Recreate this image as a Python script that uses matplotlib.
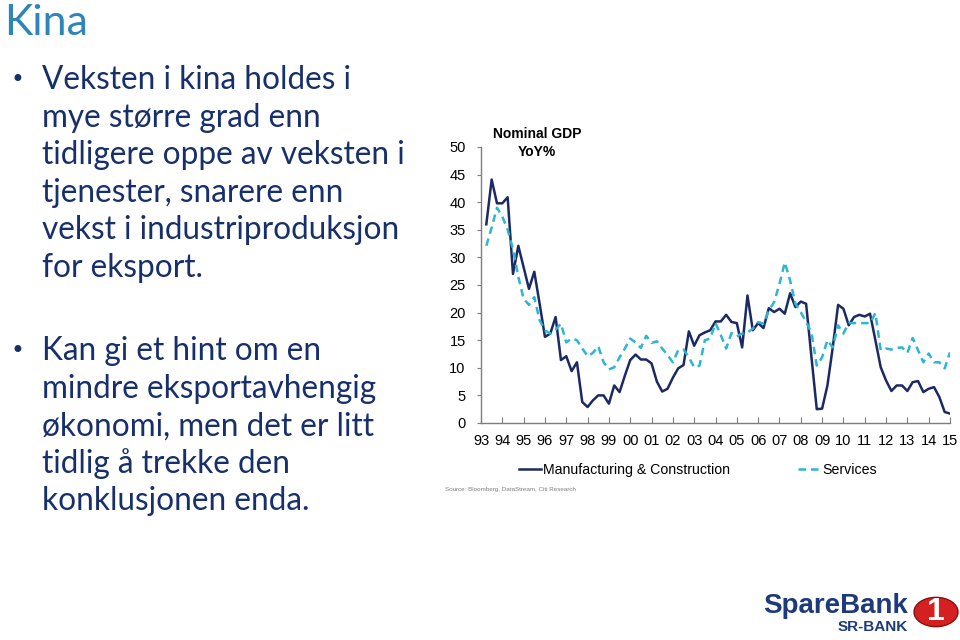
import matplotlib
matplotlib.use('Agg')
import matplotlib.pyplot as plt
from matplotlib.patches import Circle
import numpy as np

# Quarterly data, 1993 Q2 .. 2015 Q1
start_year = 1993.25
manufacturing = [36.0, 44.1, 39.8, 39.8, 40.9, 27.0, 32.1, 28.2, 24.3, 27.4,
                 21.6, 15.6, 16.2, 19.2, 11.4, 12.1, 9.4, 11.0, 3.8, 2.9,
                 4.1, 5.0, 5.0, 3.5, 6.8, 5.6, 8.6, 11.4, 12.4, 11.5,
                 11.5, 10.8, 7.5, 5.7, 6.2, 8.2, 9.9, 10.5, 16.6, 14.0,
                 15.9, 16.4, 16.8, 18.4, 18.4, 19.6, 18.3, 18.1, 13.7, 23.1,
                 16.8, 18.1, 17.2, 20.8, 20.1, 20.7, 19.8, 23.5, 21.0, 22.0,
                 21.6, 12.0, 2.5, 2.6, 6.8, 13.7, 21.4, 20.7, 17.7, 19.2,
                 19.6, 19.3, 19.8, 15.0, 10.1, 7.7, 5.8, 6.8, 6.8, 5.8,
                 7.4, 7.6, 5.6, 6.2, 6.5, 4.7, 2.0, 1.7]
services = [32.1, 35.4, 39.0, 37.4, 35.0, 31.5, 26.5, 22.5, 21.4, 22.8,
            18.6, 16.8, 16.2, 16.9, 18.0, 14.6, 15.3, 15.0, 13.5, 12.1,
            12.7, 13.9, 11.0, 9.7, 10.1, 11.9, 13.5, 15.3, 14.6, 13.6,
            15.8, 14.5, 14.8, 13.5, 12.3, 11.0, 13.2, 13.3, 11.9, 10.1,
            10.4, 15.0, 15.3, 18.1, 15.9, 13.5, 16.3, 15.7, 16.2, 16.4,
            17.1, 18.3, 18.0, 20.4, 21.9, 25.2, 29.1, 25.8, 21.6, 20.1,
            18.3, 16.4, 10.4, 11.9, 15.0, 13.7, 17.7, 16.2, 18.1, 18.1,
            18.1, 18.1, 18.1, 19.9, 13.2, 13.5, 13.3, 13.6, 13.7, 12.7,
            15.4, 13.2, 11.0, 12.6, 11.0, 11.0, 9.9, 12.8]
year_ticks = list(range(1993, 2016))
year_labels = ['%02d' % (y % 100) for y in year_ticks]
y_ticks = [0, 5, 10, 15, 20, 25, 30, 35, 40, 45, 50]

bullet1 = ['Veksten i kina holdes i', 'mye større grad enn',
           'tidligere oppe av veksten i', 'tjenester, snarere enn',
           'vekst i industriproduksjon', 'for eksport.']
bullet2 = ['Kan gi et hint om en', 'mindre eksportavhengig',
           'økonomi, men det er litt', 'tidlig å trekke den',
           'konklusjonen enda.']

navy = '#1b2a63'
cyan = '#2bb7d3'
text_col = '#17306b'

fig = plt.figure(figsize=(9.6, 6.4), dpi=100)
W, H = 960.0, 640.0

# slide title and bullets
fig.text(4 / W, 1 - 23 / H, 'Kina', fontsize=31, color='#2e86b8',
         family='Lato', va='center', ha='left')

def bullets(lines, y0):
    fig.text(10 / W, 1 - y0 / H, '•', fontsize=17, color=text_col,
             va='center', ha='left')
    for k, line in enumerate(lines):
        fig.text(42 / W, 1 - (y0 + 37.6 * k) / H, line, fontsize=22.7,
                 color=text_col, family='Lato', va='center', ha='left')

bullets(bullet1, 80)
bullets(bullet2, 351)

# chart
ax = fig.add_axes([481 / W, 1 - 423 / H, (950 - 481) / W, (423 - 147) / H])
x = start_year + 0.25 * np.arange(len(manufacturing))
ax.plot(x, manufacturing, color=navy, lw=1.8,
        label='Manufacturing & Construction')
ax.plot(x, services, color=cyan, lw=1.8, ls=(0, (3, 2)), label='Services')
ax.set_xlim(1993, 2015)
ax.set_ylim(0, 50)
ax.set_xticks(year_ticks)
ax.set_xticklabels(year_labels)
ax.set_yticks(y_ticks)
for s in ['top', 'right']:
    ax.spines[s].set_visible(False)
for s in ['left', 'bottom']:
    ax.spines[s].set_color('#7f7f7f')
    ax.spines[s].set_linewidth(1.0)
ax.tick_params(axis='x', direction='in', length=4, color='#7f7f7f',
               labelsize=10.5, pad=8)
ax.tick_params(axis='y', direction='out', length=3, color='#7f7f7f',
               labelsize=10.5, pad=8)
for lab in ax.get_xticklabels() + ax.get_yticklabels():
    lab.set_family('Liberation Sans')
ax.text(0.12, 1.015, 'Nominal GDP\nYoY%', transform=ax.transAxes,
        ha='center', va='center', fontsize=10, fontweight='bold',
        family='Liberation Sans', linespacing=1.4)

leg = ax.legend(loc='upper center', bbox_to_anchor=(0.462, -0.1), ncol=2,
                frameon=False, handlelength=1.6, handletextpad=0.1,
                columnspacing=4.8, prop={'family': 'Liberation Sans', 'size': 10.2})

fig.text(445 / W, 1 - 490 / H, 'Source: Bloomberg, DataStream, Citi Research',
         fontsize=4.5, color='#808080', va='center', ha='left',
         family='Liberation Sans')

# logo
fig.text(908 / W, 1 - 606 / H, 'SpareBank', fontsize=20, color='#1d3a7a',
         fontweight='bold', ha='right', va='center', family='Liberation Sans')
fig.text(908 / W, 1 - 627 / H, 'SR-BANK', fontsize=11, color='#1d3a7a',
         fontweight='bold', ha='right', va='center', family='Liberation Sans')
circ = Circle((936 / W, 1 - 612 / H), 22 / W, transform=fig.transFigure,
              facecolor='#d42020', edgecolor='#8a1010', lw=1)
fig.patches.append(circ)
fig.text(936 / W, 1 - 612 / H, '1', fontsize=23, color='white',
         fontweight='bold', ha='center', va='center', family='Liberation Sans')

fig.savefig('out.png', dpi=100)
